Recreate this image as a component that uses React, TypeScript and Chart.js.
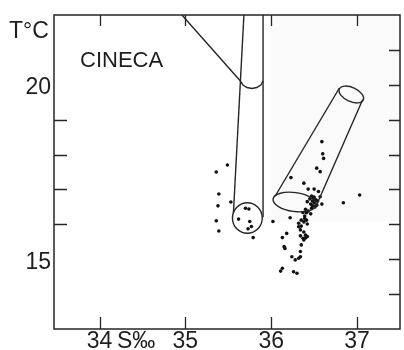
import React, { useEffect, useRef } from "react";
import { Chart, registerables } from "chart.js";

Chart.register(...registerables);

// ---- axes ----
const salinityRange = [33.47, 37.5];
const temperatureRange = [13, 22];
const xTickValues = [34, 35, 36, 37];
const xTickLabels = ["34", "35", "36", "37"];
const topTickValues = [34, 35, 36, 37];
const yLabelValues = [15, 20];
const yLabelTexts = ["15", "20"];
const leftTickValues = [16, 17, 18, 19];
const rightTickValues = [14, 15, 16, 17, 18, 19, 20, 21];
const yAxisTitle = "T°C";
const xAxisTitle = "S‰";
const panelTitle = "CINECA";

// ---- observations (S, T) ----
const obsS = [
  35.49, 35.36, 35.39, 35.53, 35.38, 35.36, 35.39,
  35.70, 35.74, 35.62, 35.75, 35.77, 35.73, 35.79, 36.02,
  36.59, 36.60, 36.61, 36.53, 36.57, 36.23, 36.38, 36.43, 36.50, 36.55, 36.57,
  36.47, 36.49, 36.52, 36.48, 36.50, 36.46, 36.53, 36.48, 36.42, 36.59, 36.47, 36.40, 36.43, 36.37, 36.41, 36.46,
  36.50, 36.54, 36.45, 36.51,
  36.84, 37.03,
  36.22, 36.32, 36.35, 36.39, 36.38, 36.41, 36.34, 36.40, 36.37, 36.42, 36.38, 36.18, 36.13, 36.15, 36.16,
  36.34, 36.34, 36.24, 36.28, 36.32, 36.13, 36.11, 36.26, 36.30, 36.32, 36.38, 36.35,
  36.39, 36.42, 36.35, 36.40, 36.34,
];
const obsT = [
  17.70, 17.50, 16.87, 16.64, 16.53, 16.10, 15.81,
  16.46, 16.44, 16.15, 16.08, 15.94, 15.87, 15.62, 16.08,
  18.37, 18.02, 17.89, 17.61, 17.51, 17.34, 17.18, 17.01, 17.01, 16.94, 16.79,
  16.81, 16.75, 16.70, 16.67, 16.61, 16.58, 16.55, 16.53, 16.65, 16.58, 16.46, 16.43, 16.38, 16.34, 16.33, 16.30,
  16.78, 16.67, 16.73, 16.50,
  16.62, 16.84,
  16.19, 16.03, 16.12, 16.17, 16.07, 16.12, 15.84, 15.69, 15.60, 15.65, 15.78, 15.74, 15.62, 15.36, 15.31,
  15.22, 15.07, 15.07, 14.98, 15.03, 14.74, 14.66, 14.64, 14.60, 15.93, 15.55, 15.41,
  16.24, 16.01, 15.95, 15.61, 15.67,
];

// ---- envelope outlines (S, T) ----
const funnelS = [34.96, 35.641, 35.670, 35.717, 35.775, 35.832, 35.879, 35.905];
const funnelT = [22.0, 20.108, 19.994, 19.922, 19.893, 19.922, 19.994, 20.108];
const tube1LeftS = [35.682, 35.56];
const tube1LeftT = [22.0, 16.33];
const tube1RightS = [35.905, 35.905];
const tube1RightT = [22.0, 16.2];
const tube2LeftS = [36.794, 36.047];
const tube2LeftT = [19.908, 16.812];
const tube2RightS = [37.066, 36.533];
const tube2RightT = [19.578, 16.583];

// ellipses: centre and two conjugate semi-axes, in (S, T) units
const ellipseCenterS = [35.722, 36.933, 36.273];
const ellipseCenterT = [16.182, 19.721, 16.64];
const ellipseAxisAS = [0.1737, 0.139, 0.2513];
const ellipseAxisAT = [0.0, -0.158, -0.086];
const ellipseAxisBS = [0.0, -0.0336, -0.0151];
const ellipseAxisBT = [-0.4385, -0.183, -0.2694];

const INK = "#262626";
const FONT = '"Liberation Sans", Arial, Helvetica, sans-serif';

const zip = (xs: number[], ys: number[]) => xs.map((x, i) => ({ x, y: ys[i] }));

const lineDs = (xs: number[], ys: number[]) => ({
  type: "line" as const,
  data: zip(xs, ys),
  showLine: true,
  borderColor: INK,
  borderWidth: 1.4,
  pointRadius: 0,
  fill: false,
  tension: 0,
});

const figurePlugin = {
  id: "figurePlugin",
  beforeDatasetsDraw(chart: any) {
    const { ctx, scales } = chart;
    const x = scales.x, y = scales.y;
    // faint scan tint
    ctx.save();
    ctx.fillStyle = "#fafafa";
    const x0 = x.getPixelForValue(36.0), x1 = x.getPixelForValue(37.5);
    const y0 = y.getPixelForValue(22), y1 = y.getPixelForValue(16.1);
    ctx.fillRect(x0, y0, x1 - x0, y1 - y0);
    ctx.restore();
  },
  afterDatasetsDraw(chart: any) {
    const { ctx, scales } = chart;
    const x = scales.x, y = scales.y;
    ctx.save();
    ctx.strokeStyle = INK;
    ctx.lineWidth = 1.4;
    for (let i = 0; i < ellipseCenterS.length; i++) {
      const cx = x.getPixelForValue(ellipseCenterS[i]);
      const cy = y.getPixelForValue(ellipseCenterT[i]);
      const ax = x.getPixelForValue(ellipseCenterS[i] + ellipseAxisAS[i]) - cx;
      const ay = y.getPixelForValue(ellipseCenterT[i] + ellipseAxisAT[i]) - cy;
      const bx = x.getPixelForValue(ellipseCenterS[i] + ellipseAxisBS[i]) - cx;
      const by = y.getPixelForValue(ellipseCenterT[i] + ellipseAxisBT[i]) - cy;
      ctx.save();
      ctx.beginPath();
      ctx.transform(ax, ay, bx, by, cx, cy);
      ctx.arc(0, 0, 1, 0, Math.PI * 2);
      ctx.restore();
      ctx.stroke();
    }
    ctx.restore();
  },
  afterDraw(chart: any) {
    const { ctx, scales, chartArea } = chart;
    const x = scales.x, y = scales.y;
    const { left, right, top, bottom } = chartArea;
    ctx.save();
    ctx.strokeStyle = INK;
    ctx.lineWidth = 1.5;
    ctx.strokeRect(left, top, right - left, bottom - top);
    ctx.lineWidth = 1.3;
    ctx.beginPath();
    for (const v of xTickValues) {
      const px = Math.round(x.getPixelForValue(v)) + 0.5;
      ctx.moveTo(px, bottom);
      ctx.lineTo(px, bottom - 12);
    }
    for (const v of topTickValues) {
      const px = Math.round(x.getPixelForValue(v)) + 0.5;
      ctx.moveTo(px, top);
      ctx.lineTo(px, top + 11);
    }
    for (const v of leftTickValues) {
      const py = Math.round(y.getPixelForValue(v)) + 0.5;
      ctx.moveTo(left, py);
      ctx.lineTo(left + 13, py);
    }
    for (const v of rightTickValues) {
      const py = Math.round(y.getPixelForValue(v)) + 0.5;
      ctx.moveTo(right, py);
      ctx.lineTo(right - 11, py);
    }
    ctx.stroke();

    ctx.fillStyle = "#1e1e1e";
    ctx.font = `23px ${FONT}`;
    ctx.textBaseline = "alphabetic";
    ctx.textAlign = "center";
    xTickLabels.forEach((lab, i) => {
      ctx.fillText(lab, x.getPixelForValue(xTickValues[i]), 348);
    });
    ctx.textAlign = "right";
    yLabelTexts.forEach((lab, i) => {
      ctx.fillText(lab, left - 3, y.getPixelForValue(yLabelValues[i]) + 9.5);
    });
    ctx.textAlign = "left";
    ctx.fillText(yAxisTitle, 9, 38);
    ctx.fillText(xAxisTitle, 117, 348);
    ctx.font = `22px ${FONT}`;
    ctx.fillText(panelTitle, 80, 67);
    ctx.restore();
  },
};

export default function App() {
  const canvasRef = useRef<HTMLCanvasElement | null>(null);

  useEffect(() => {
    if (!canvasRef.current) return;
    const chart = new Chart(canvasRef.current, {
      type: "scatter",
      data: {
        datasets: [
          lineDs(funnelS, funnelT),
          lineDs(tube1LeftS, tube1LeftT),
          lineDs(tube1RightS, tube1RightT),
          lineDs(tube2LeftS, tube2LeftT),
          lineDs(tube2RightS, tube2RightT),
          {
            type: "scatter" as const,
            data: zip(obsS, obsT),
            pointRadius: 1.8,
            pointBackgroundColor: "#111",
            pointBorderWidth: 0,
            borderColor: "#111",
          } as any,
        ],
      },
      options: {
        animation: false,
        responsive: true,
        maintainAspectRatio: false,
        events: [],
        layout: { padding: { left: 54, top: 15, right: 2, bottom: 21 } },
        plugins: { legend: { display: false }, tooltip: { enabled: false } },
        scales: {
          x: { type: "linear", display: false, min: salinityRange[0], max: salinityRange[1] },
          y: { type: "linear", display: false, min: temperatureRange[0], max: temperatureRange[1] },
        },
      },
      plugins: [figurePlugin],
    } as any);
    return () => chart.destroy();
  }, []);

  return (
    <div style={{ position: "absolute", left: 0, top: 0, width: 404, height: 350, background: "#fff" }}>
      <canvas ref={canvasRef} />
    </div>
  );
}
